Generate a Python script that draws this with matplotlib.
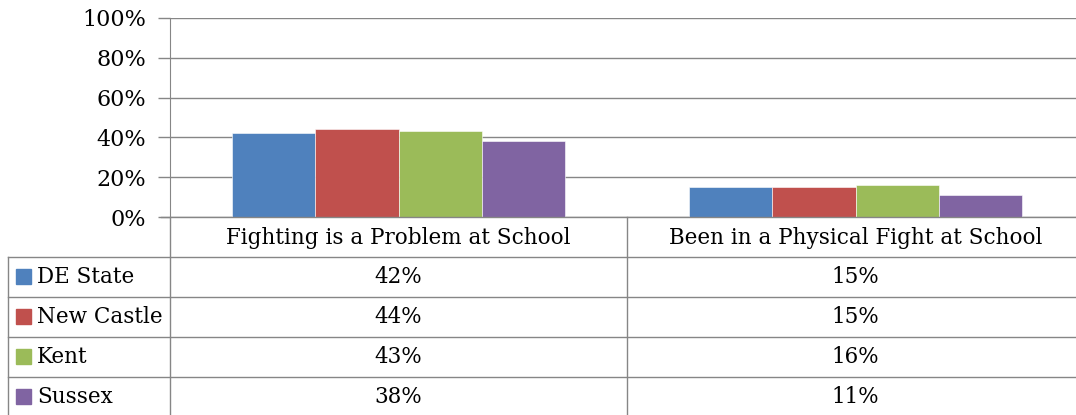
import numpy as np
import matplotlib.pyplot as plt

# survey results by region
categories = ['Fighting is a Problem at School', 'Been in a Physical Fight at School']
regions = ['DE State', 'New Castle', 'Kent', 'Sussex']
de_state = [42, 15]
new_castle = [44, 15]
kent = [43, 16]
sussex = [38, 11]
colors = ['#4F81BD', '#C0504D', '#9BBB59', '#8064A2']
yticks = [0, 20, 40, 60, 80, 100]

series = [de_state, new_castle, kent, sussex]

W, H = 1076, 415
plt.rcParams['font.family'] = ['DejaVu Serif']
fig = plt.figure(figsize=(W / 100, H / 100), dpi=100)
grid = '#868686'
fs = 15.5

# plot area in pixels: x 170..1084 (runs past the right edge), y 18..217
px_l, px_r, px_t, px_b = 170, 1084, 18, 217
ax = fig.add_axes([px_l / W, (H - px_b) / H, (px_r - px_l) / W, (px_b - px_t) / H])

n = len(series)
bw = 0.729 / n
x = np.arange(len(categories))
for i, vals in enumerate(series):
    ax.bar(x - 0.729 / 2 + bw * (i + 0.5), vals, width=bw, color=colors[i],
           edgecolor='white', linewidth=0.4, zorder=3)

ax.set_xlim(-0.5, len(categories) - 0.5)
ax.set_ylim(0, 100)
ax.set_yticks(yticks)
ax.set_yticklabels([f'{v}%' for v in yticks], fontsize=16)
ax.set_xticks([])
ax.tick_params(axis='y', length=9, width=1, color=grid, pad=8)
ax.grid(axis='y', color=grid, linewidth=1, zorder=0)
for s in ['top', 'right', 'bottom']:
    ax.spines[s].set_visible(False)
ax.spines['left'].set_color(grid)

# data table below the bars, drawn in pixel coordinates
tb = fig.add_axes([0, 0, 1, 1], zorder=5)
tb.set_xlim(0, W)
tb.set_ylim(H, 0)
tb.axis('off')
tb.patch.set_alpha(0)

row_h = 40
header_y = px_b
rows_y = [header_y + row_h * (k + 1) for k in range(len(regions))]
col_x = [px_l, (px_l + px_r) / 2, px_r]

tb.plot([161, W], [header_y, header_y], color=grid, lw=1)
for y in rows_y:
    tb.plot([8, W], [y, y], color=grid, lw=1)
tb.plot([8, 8], [rows_y[0], H], color=grid, lw=1)
for cx in col_x[:2]:
    tb.plot([cx, cx], [header_y, H], color=grid, lw=1)

for j, cat in enumerate(categories):
    tb.text((col_x[j] + col_x[j + 1]) / 2, header_y + row_h / 2 + 1, cat,
            ha='center', va='center', fontsize=fs)

for i, name in enumerate(regions):
    yc = rows_y[i] + row_h / 2
    tb.add_patch(plt.Rectangle((16, yc - 8), 15, 15, color=colors[i]))
    tb.text(37, yc, name, ha='left', va='center', fontsize=fs)
    for j in range(len(categories)):
        tb.text((col_x[j] + col_x[j + 1]) / 2, yc, f'{series[i][j]}%',
                ha='center', va='center', fontsize=fs)

fig.savefig('out.png', dpi=100)
